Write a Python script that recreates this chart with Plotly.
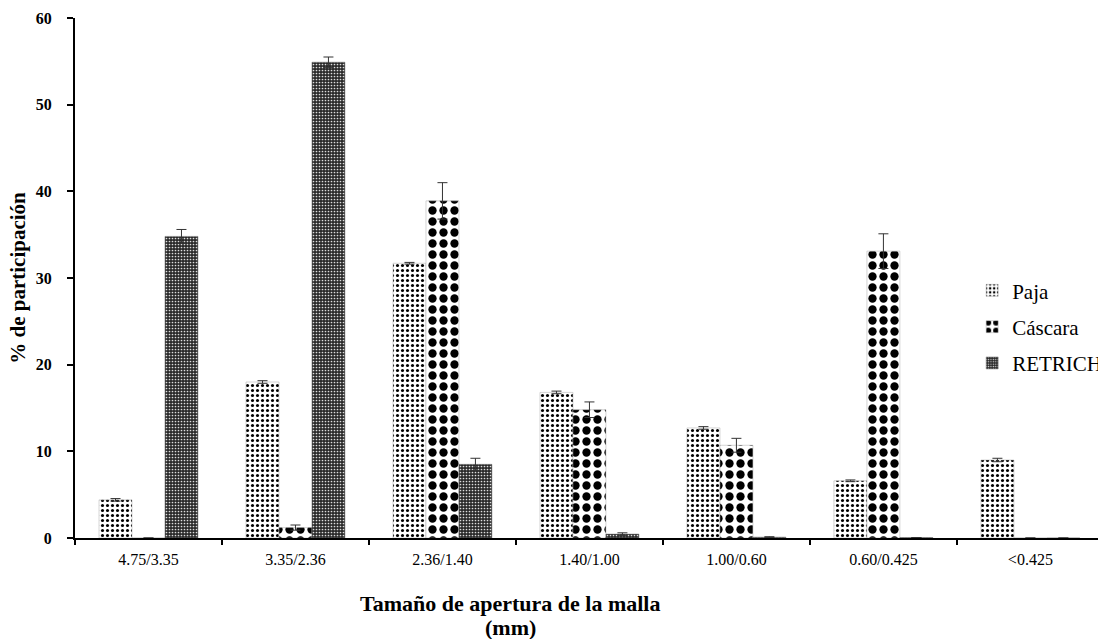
import plotly.graph_objects as go

categories = ["4.75/3.35", "3.35/2.36", "2.36/1.40", "1.40/1.00", "1.00/0.60", "0.60/0.425", "<0.425"]
paja = [4.4, 18.0, 31.7, 16.8, 12.7, 6.6, 9.0]
paja_err = [0.15, 0.15, 0.1, 0.15, 0.15, 0.1, 0.2]
cascara = [0.0, 1.2, 38.9, 14.8, 10.7, 33.1, 0.0]
cascara_err = [None, 0.3, 2.1, 0.9, 0.8, 2.0, None]
retrich = [34.8, 54.9, 8.5, 0.45, 0.1, 0.05, 0.0]
retrich_err = [0.8, 0.6, 0.7, 0.15, 0.05, None, None]

serif = "Liberation Serif, Times New Roman, serif"
err_style = dict(type="data", visible=True, color="#333333", thickness=1, width=5)

fig = go.Figure()
fig.add_trace(go.Bar(
    x=categories, y=paja, name="Paja", legendgroup="a",
    error_y=dict(array=paja_err, **err_style),
    marker=dict(color="white", line=dict(width=0.5, color="#aaaaaa"),
                pattern=dict(shape=".", size=5, solidity=0.3, fgcolor="black",
                             bgcolor="white", fgopacity=1)),
))
fig.add_trace(go.Bar(
    x=categories, y=cascara, name="Cáscara", legendgroup="b",
    error_y=dict(array=cascara_err, **err_style),
    marker=dict(color="white", line=dict(width=0.5, color="#aaaaaa"),
                pattern=dict(shape=".", size=11, solidity=0.45, fgcolor="black",
                             bgcolor="white", fgopacity=1)),
))
fig.add_trace(go.Bar(
    x=categories, y=retrich, name="RETRICH", legendgroup="c",
    error_y=dict(array=retrich_err, **err_style),
    marker=dict(color="#333333", line=dict(width=0.5, color="#777777"),
                pattern=dict(shape=".", size=3, solidity=0.25, fgcolor="#dddddd",
                             bgcolor="#2a2a2a", fgopacity=1)),
))

W, H = 1098, 639
l, r, t, b = 75, 0, 18, 101
pw, ph = W - l - r, H - t - b

def px(xp, yp):
    return (xp - l) / pw, (H - b - yp) / ph

fig.update_layout(
    width=W, height=H,
    margin=dict(l=l, r=r, t=t, b=b, autoexpand=False),
    paper_bgcolor="white", plot_bgcolor="white",
    barmode="group", bargap=0.327, bargroupgap=0,
    font=dict(family=serif, color="black"),
    showlegend=True,
    legend=dict(x=0.877, y=0.515, xanchor="left", yanchor="top",
                font=dict(family=serif, size=21, color="black"),
                bgcolor="rgba(0,0,0,0)", tracegroupgap=6,
                itemwidth=30),
    xaxis=dict(
        range=[-0.5, 6.46], showline=True, linecolor="black", linewidth=2,
        ticks="outside", tickson="boundaries", ticklen=5, tickcolor="black", tickwidth=2,
        tickfont=dict(family=serif, size=16, color="black"), ticklabelstandoff=6,
        showgrid=False, zeroline=False, automargin=False,
    ),
    yaxis=dict(
        range=[0, 60], dtick=10, showline=True, linecolor="black", linewidth=2,
        ticks="outside", ticklen=6, tickcolor="black", tickwidth=2,
        tickfont=dict(family=serif, size=16, color="black", weight="bold"), ticklabelstandoff=12,
        showgrid=False, zeroline=False, automargin=False,
        title=dict(text="<b>% de participación</b>", font=dict(family=serif, size=21, color="black"), standoff=4),
    ),
)

ax, ay = px(510, 603)
bx, by = px(510, 627)
fig.add_annotation(text="<b>Tamaño de apertura de la malla</b>", x=ax, y=ay, xref="paper", yref="paper",
                   xanchor="center", yanchor="middle", showarrow=False,
                   font=dict(family=serif, size=22, color="black"))
fig.add_annotation(text="<b>(mm)</b>", x=bx, y=by, xref="paper", yref="paper",
                   xanchor="center", yanchor="middle", showarrow=False,
                   font=dict(family=serif, size=22, color="black"))

fig.write_html("out.html", config={"displayModeBar": False},
               post_script="document.body.style.margin='0';document.body.style.overflow='hidden';")
